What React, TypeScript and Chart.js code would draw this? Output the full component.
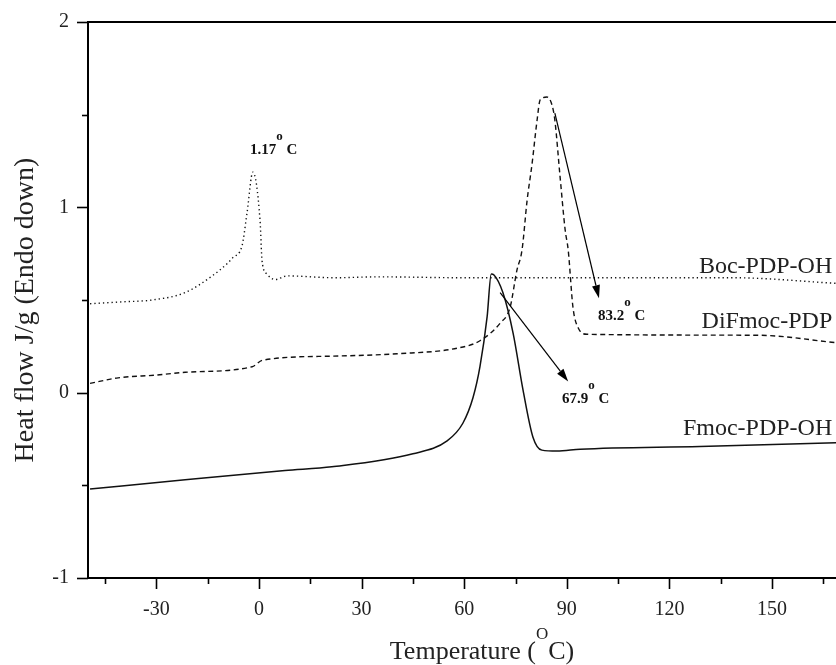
import React, { useEffect, useRef } from "react";
import { Chart, registerables } from "chart.js";

Chart.register(...registerables);

// ---- data ----
const bocTemp = [-49.4, -40, -31.3, -21.6, -13.7, -9.1, -7.6, -5.0, -3.5, -1.8, 0.3, 0.9, 2.3, 4.7, 8.2, 22.2, 35, 60, 100, 138.6, 168.7];
const bocFlow = [0.48, 0.49, 0.5, 0.54, 0.63, 0.7, 0.73, 0.79, 0.97, 1.19, 0.93, 0.71, 0.64, 0.61, 0.63, 0.62, 0.625, 0.62, 0.62, 0.62, 0.59];

const difTemp = [-49.4, -41.2, -30, -21.6, -2.0, 1.0, 21.3, 40.4, 57.9, 64.6, 70.5, 73.4, 75.4, 76.9, 78.4, 79.8, 81.3, 82.2, 84.2, 85.7, 86.5, 88.0, 89.5, 90.4, 91.8, 93.3, 95.9, 145.6, 168.7];
const difFlow = [0.05, 0.08, 0.095, 0.11, 0.14, 0.175, 0.197, 0.21, 0.24, 0.28, 0.375, 0.46, 0.66, 0.77, 1.04, 1.23, 1.47, 1.58, 1.595, 1.55, 1.47, 1.17, 0.88, 0.77, 0.46, 0.35, 0.315, 0.31, 0.27];

const fmocTemp = [-49.4, -21.6, 7.6, 21.3, 45.0, 55.0, 59.6, 62.6, 64.6, 66.7, 67.9, 68.7, 71.3, 74.3, 77.2, 80.1, 82.7, 87.1, 93.9, 128.9, 168.7];
const fmocFlow = [-0.52, -0.47, -0.42, -0.4, -0.33, -0.26, -0.165, -0.025, 0.14, 0.41, 0.64, 0.635, 0.54, 0.32, 0.014, -0.24, -0.31, -0.315, -0.305, -0.29, -0.27];

const seriesNames = ["Boc-PDP-OH", "DiFmoc-PDP", "Fmoc-PDP-OH"];

const xTickValues = [-45, -30, -15, 0, 15, 30, 45, 60, 75, 90, 105, 120, 135, 150, 165];
const xMajorTicks = [-30, 0, 30, 60, 90, 120, 150];
const yTickValues = [-1, -0.5, 0, 0.5, 1, 1.5, 2];
const yMajorTicks = [-1, 0, 1, 2];

const xRange = [-50, 168.7];
const yRange = [-1, 2];

// peak annotations: label value, text anchor (data), arrow start/end (data)
const peakLabels = ["1.17", "83.2", "67.9"];
const peakTextAt = [[-2.6, 1.287], [99.1, 0.391], [88.6, -0.057]];
const arrowFrom = [null, [86.5, 1.508], [70.5, 0.54]];
const arrowTo = [null, [99.4, 0.51], [90.4, 0.06]];

// series label anchors (right-aligned, data)
const seriesLabelAt = [[167.6, 0.645], [167.6, 0.348], [167.6, -0.229]];

const FONT = '"Liberation Serif", "Times New Roman", serif';

function toPts(xs: number[], ys: number[]) {
  return xs.map((x, i) => ({ x, y: ys[i] }));
}

type Part = { text: string; font: string; dy: number };

function drawParts(ctx: CanvasRenderingContext2D, parts: Part[], x: number, y: number, align: "left" | "center" | "right") {
  ctx.textBaseline = "alphabetic";
  ctx.textAlign = "left";
  const widths = parts.map((p) => {
    ctx.font = p.font;
    return ctx.measureText(p.text).width;
  });
  const total = widths.reduce((a, b) => a + b, 0);
  let cx = align === "left" ? x : align === "center" ? x - total / 2 : x - total;
  parts.forEach((p, i) => {
    ctx.font = p.font;
    ctx.fillText(p.text, cx, y + p.dy);
    cx += widths[i];
  });
}

const decorPlugin = {
  id: "decor",
  afterDraw(chart: any) {
    const ctx: CanvasRenderingContext2D = chart.ctx;
    const xs = chart.scales.x;
    const ys = chart.scales.y;
    const ca = chart.chartArea;
    ctx.save();
    ctx.strokeStyle = "#000";
    ctx.fillStyle = "#000";

    // top frame line
    ctx.lineWidth = 2;
    ctx.beginPath();
    ctx.moveTo(ca.left - 1, ca.top);
    ctx.lineTo(ca.right, ca.top);
    ctx.stroke();

    // ticks
    ctx.lineWidth = 1.6;
    xTickValues.forEach((v) => {
      const px = Math.round(xs.getPixelForValue(v)) + 0.5;
      const len = xMajorTicks.includes(v) ? 11 : 6;
      ctx.beginPath();
      ctx.moveTo(px, ca.bottom);
      ctx.lineTo(px, ca.bottom + len);
      ctx.stroke();
    });
    yTickValues.forEach((v) => {
      const py = Math.round(ys.getPixelForValue(v)) + 0.5;
      const len = yMajorTicks.includes(v) ? 11 : 6;
      ctx.beginPath();
      ctx.moveTo(ca.left, py);
      ctx.lineTo(ca.left - len, py);
      ctx.stroke();
    });

    // axis titles
    ctx.fillStyle = "#222";
    drawParts(
      ctx,
      [
        { text: "Temperature (", font: `26px ${FONT}`, dy: 0 },
        { text: "O", font: `17px ${FONT}`, dy: -20 },
        { text: "C)", font: `26px ${FONT}`, dy: 0 },
      ],
      xs.getPixelForValue(65.2),
      659,
      "center"
    );
    ctx.save();
    ctx.translate(33, (ca.top + ca.bottom) / 2 + 10);
    ctx.rotate(-Math.PI / 2);
    ctx.font = `28px ${FONT}`;
    ctx.textAlign = "center";
    ctx.textBaseline = "alphabetic";
    ctx.fillText("Heat flow J/g (Endo down)", 0, 0);
    ctx.restore();

    // series labels
    ctx.fillStyle = "#222";
    seriesNames.forEach((name, i) => {
      const [vx, vy] = seriesLabelAt[i];
      ctx.font = `24px ${FONT}`;
      ctx.textAlign = "right";
      ctx.textBaseline = "alphabetic";
      ctx.fillText(name, xs.getPixelForValue(vx), ys.getPixelForValue(vy));
    });

    // peak annotations
    ctx.fillStyle = "#111";
    peakLabels.forEach((lab, i) => {
      const [tx, ty] = peakTextAt[i];
      drawParts(
        ctx,
        [
          { text: lab, font: `bold 15px ${FONT}`, dy: 0 },
          { text: "o", font: `bold 13px ${FONT}`, dy: -14 },
          { text: " C", font: `bold 15px ${FONT}`, dy: 0 },
        ],
        xs.getPixelForValue(tx),
        ys.getPixelForValue(ty),
        "left"
      );
      const a = arrowFrom[i];
      const b = arrowTo[i];
      if (a && b) {
        const x1 = xs.getPixelForValue(a[0]);
        const y1 = ys.getPixelForValue(a[1]);
        const x2 = xs.getPixelForValue(b[0]);
        const y2 = ys.getPixelForValue(b[1]);
        const ang = Math.atan2(y2 - y1, x2 - x1);
        const hl = 13;
        const hw = 4;
        const bx = x2 - hl * Math.cos(ang);
        const by = y2 - hl * Math.sin(ang);
        ctx.strokeStyle = "#000";
        ctx.lineWidth = 1.2;
        ctx.beginPath();
        ctx.moveTo(x1, y1);
        ctx.lineTo(bx, by);
        ctx.stroke();
        ctx.fillStyle = "#000";
        ctx.beginPath();
        ctx.moveTo(x2, y2);
        ctx.lineTo(bx + hw * Math.sin(ang), by - hw * Math.cos(ang));
        ctx.lineTo(bx - hw * Math.sin(ang), by + hw * Math.cos(ang));
        ctx.closePath();
        ctx.fill();
        ctx.fillStyle = "#111";
      }
    });

    ctx.restore();
  },
};

export default function App() {
  const canvasRef = useRef<HTMLCanvasElement | null>(null);

  useEffect(() => {
    const canvas = canvasRef.current;
    if (!canvas) return;
    const chart = new Chart(canvas, {
      type: "line",
      data: {
        datasets: [
          {
            label: seriesNames[0],
            data: toPts(bocTemp, bocFlow),
            borderColor: "#111",
            borderWidth: 1.4,
            borderDash: [1.3, 3],
            pointRadius: 0,
            cubicInterpolationMode: "monotone",
            fill: false,
          },
          {
            label: seriesNames[1],
            data: toPts(difTemp, difFlow),
            borderColor: "#111",
            borderWidth: 1.4,
            borderDash: [5, 3.5],
            pointRadius: 0,
            cubicInterpolationMode: "monotone",
            fill: false,
          },
          {
            label: seriesNames[2],
            data: toPts(fmocTemp, fmocFlow),
            borderColor: "#111",
            borderWidth: 1.5,
            pointRadius: 0,
            cubicInterpolationMode: "monotone",
            fill: false,
          },
        ],
      },
      options: {
        animation: false,
        responsive: false,
        maintainAspectRatio: false,
        devicePixelRatio: 1,
        parsing: false as any,
        layout: { padding: { top: 22, right: 0, left: 0, bottom: 0 } },
        plugins: { legend: { display: false }, tooltip: { enabled: false } },
        scales: {
          x: {
            type: "linear",
            min: xRange[0],
            max: xRange[1],
            afterBuildTicks: (s: any) => {
              s.ticks = xTickValues.map((v) => ({ value: v }));
            },
            afterFit: (s: any) => {
              s.height = 87;
            },
            ticks: {
              autoSkip: false,
              maxRotation: 0,
              padding: 9,
              color: "#222",
              font: { family: FONT, size: 20 },
              callback: (v: any) => (xMajorTicks.includes(Number(v)) ? String(v) : ""),
            },
            grid: { display: false, drawTicks: true, tickLength: 11 },
            border: { display: true, color: "#000", width: 2 },
          },
          y: {
            type: "linear",
            min: yRange[0],
            max: yRange[1],
            afterBuildTicks: (s: any) => {
              s.ticks = yTickValues.map((v) => ({ value: v }));
            },
            afterFit: (s: any) => {
              s.width = 88;
            },
            ticks: {
              autoSkip: false,
              padding: 8,
              color: "#222",
              font: { family: FONT, size: 20 },
              callback: (v: any) => (yMajorTicks.includes(Number(v)) ? String(v) : ""),
            },
            grid: { display: false, drawTicks: true, tickLength: 11 },
            border: { display: true, color: "#000", width: 2 },
          },
        },
      } as any,
      plugins: [decorPlugin],
    });
    return () => chart.destroy();
  }, []);

  return (
    <div style={{ position: "fixed", left: 0, top: 0, width: 836, height: 665, background: "#fff" }}>
      <canvas ref={canvasRef} width={836} height={665} style={{ display: "block", width: 836, height: 665 }} />
    </div>
  );
}
